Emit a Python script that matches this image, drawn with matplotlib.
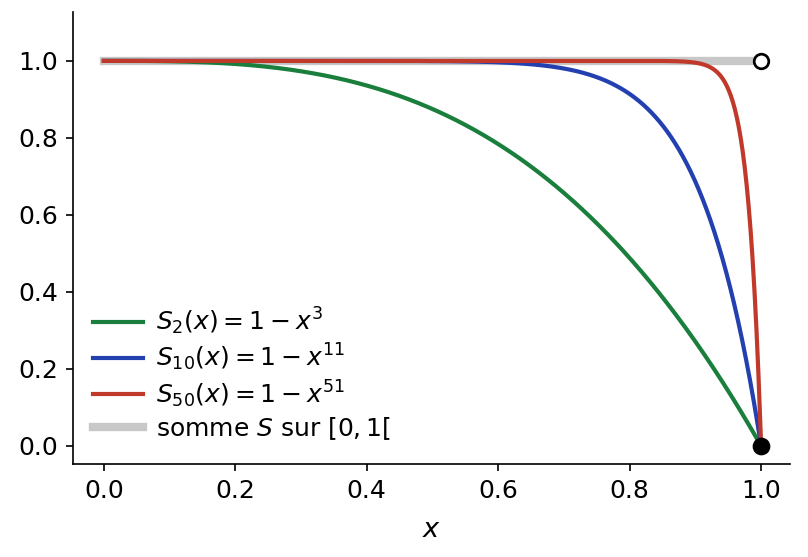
import numpy as np
import matplotlib
matplotlib.use("Agg")
import matplotlib.pyplot as plt

# partial sum indices and exponents (S_n(x) = 1 - x^(n+1))
ns = [2, 10, 50]
exponents = [3, 11, 51]
colors = ["#1a7f3c", "#2340b0", "#c0392b"]
labels = [r"$S_{2}(x) = 1 - x^{3}$", r"$S_{10}(x) = 1 - x^{11}$", r"$S_{50}(x) = 1 - x^{51}$"]
limit_value = 1.0
xticks = [0.0, 0.2, 0.4, 0.6, 0.8, 1.0]
yticks = [0.0, 0.2, 0.4, 0.6, 0.8, 1.0]

DPI = 150
fig = plt.figure(figsize=(808 / DPI, 557 / DPI), dpi=DPI)
ax = fig.add_axes([73/808, 1-464/557, (790-73)/808, (464-12)/557])

x = np.linspace(0, 1, 1000)
ax.plot([0, 1], [limit_value, limit_value], color="#c8c8c8", lw=4, zorder=1,
        label=r"somme $S$ sur $[0,1[$")
for n, e, c, lab in zip(ns, exponents, colors, labels):
    ax.plot(x, 1 - x**e, color=c, lw=2.0, label=lab, zorder=2)

ax.plot([1], [limit_value], "o", mfc="white", mec="black", mew=1.3, ms=7, zorder=5)
ax.plot([1], [0], "o", color="black", ms=7.5, zorder=5)

ax.set_xlim(-0.047, 1.044)
ax.set_ylim(-0.047, 1.127)
ax.set_xticks(xticks)
ax.set_yticks(yticks)
ax.tick_params(labelsize=12)
ax.set_xlabel(r"$x$", fontsize=13, labelpad=7)
for s in ["top", "right"]:
    ax.spines[s].set_visible(False)

h, l = ax.get_legend_handles_labels()
order = [1, 2, 3, 0]
ax.legend([h[i] for i in order], [l[i] for i in order], loc="lower left",
          frameon=False, fontsize=12, labelspacing=0.2, handletextpad=0.55,
          bbox_to_anchor=(-0.004, 0.0))

fig.savefig("out.png", dpi=DPI)
